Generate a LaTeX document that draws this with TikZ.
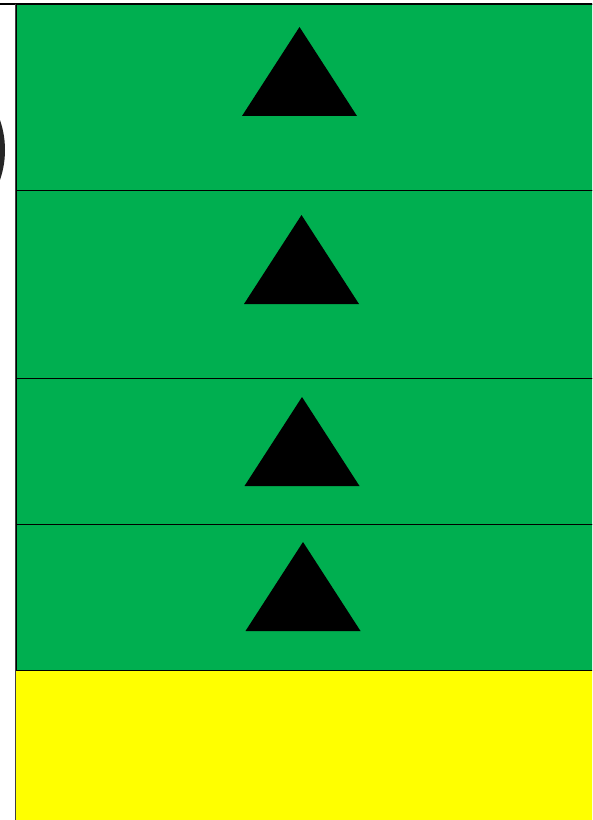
\documentclass[tikz,border=0pt]{standalone}
\usepackage{tikz}
\definecolor{bandgreen}{HTML}{00AF50}
\definecolor{bandyellow}{HTML}{FFFF00}

\begin{document}
\begin{tikzpicture}[x=0.75pt,y=-0.75pt,
  band/.style={draw=black,line width=0.7pt,fill=bandgreen},
  marker/.style={fill=black}]
  \useasboundingbox (0,0) rectangle (592,820);
  \clip (0,0) rectangle (592,820);
  \fill[black!85] (-87,150) circle (92);
  \fill[bandyellow] (16,670) rectangle (600,830);
  \draw[band] (16,4)   rectangle (600,190);
  \draw[band] (16,190) rectangle (600,378);
  \draw[band] (16,378) rectangle (600,524);
  \draw[band] (16,524) rectangle (600,670);
  \foreach \ax/\ay in {299.5/27, 301.5/215, 302/397, 303/542}
    \fill[marker] (\ax,\ay) -- ++(-57.5,89) -- ++(115,0) -- cycle;
  \draw[line width=1.5pt] (0,4) -- (600,4);
  \draw[line width=1.4pt,black!75] (15.5,4) -- (15.5,830);
\end{tikzpicture}
\end{document}
